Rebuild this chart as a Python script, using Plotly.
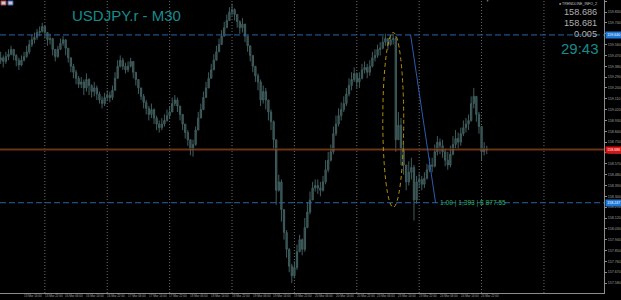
import plotly.graph_objects as go

chart_title = "USDJPY.r - M30"

# hourly-spaced candles on an M30 bar index (every 2 M30 bars)
bar_index = list(range(0, 378, 2))

open_ = [159.42, 159.43, 159.45, 159.42, 159.46, 159.48, 159.52, 159.47, 159.43, 159.39,
         159.43, 159.46, 159.50, 159.56, 159.60, 159.62, 159.66, 159.67, 159.71, 159.66,
         159.60, 159.61, 159.52, 159.46, 159.52, 159.57, 159.60, 159.53, 159.45, 159.38,
         159.33, 159.28, 159.23, 159.25, 159.20, 159.27, 159.22, 159.17, 159.20, 159.15,
         159.10, 159.07, 159.12, 159.14, 159.12, 159.18, 159.28, 159.38, 159.43, 159.38,
         159.35, 159.38, 159.42, 159.33, 159.27, 159.20, 159.13, 159.08, 159.03, 158.98,
         159.02, 158.95, 158.90, 158.87, 158.90, 158.93, 158.97, 159.00, 159.07, 159.10,
         159.05, 158.98, 158.90, 158.83, 158.77, 158.69, 158.73, 158.85, 158.95, 159.02,
         159.12, 159.20, 159.28, 159.35, 159.43, 159.50, 159.56, 159.63, 159.70, 159.76,
         159.83, 159.85, 159.81, 159.75, 159.70, 159.73, 159.63, 159.55, 159.47, 159.38,
         159.30, 159.25, 159.10, 159.17, 159.10, 159.00, 158.92, 158.77, 158.35, 158.42,
         158.19, 158.00, 157.86, 157.72, 157.64, 157.71, 157.84, 157.94, 157.86, 158.04,
         158.17, 158.27, 158.37, 158.39, 158.37, 158.35, 158.42, 158.52, 158.60, 158.67,
         158.82, 158.90, 158.97, 159.02, 159.07, 159.15, 159.22, 159.27, 159.32, 159.25,
         159.28, 159.35, 159.37, 159.33, 159.38, 159.45, 159.47, 159.52, 159.53, 159.58,
         159.61, 159.56, 159.60, 159.61, 158.77, 158.89, 158.69, 158.56, 158.42, 158.50,
         158.54, 158.27, 158.42, 158.44, 158.40, 158.45, 158.52, 158.56, 158.55, 158.67,
         158.75, 158.72, 158.67, 158.60, 158.56, 158.65, 158.73, 158.78, 158.75, 158.82,
         158.87, 158.90, 158.93, 159.07, 159.13, 158.98, 158.88, 158.67, 158.70]

high = [159.47, 159.50, 159.47, 159.50, 159.52, 159.55, 159.52, 159.48, 159.45, 159.47,
        159.50, 159.55, 159.60, 159.64, 159.66, 159.69, 159.71, 159.74, 159.72, 159.66,
        159.65, 159.61, 159.52, 159.55, 159.61, 159.63, 159.60, 159.53, 159.45, 159.40,
        159.35, 159.30, 159.29, 159.27, 159.32, 159.28, 159.23, 159.25, 159.22, 159.17,
        159.13, 159.16, 159.18, 159.17, 159.22, 159.33, 159.43, 159.47, 159.45, 159.41,
        159.42, 159.45, 159.42, 159.33, 159.27, 159.20, 159.15, 159.10, 159.05, 159.07,
        159.03, 158.97, 158.93, 158.95, 158.98, 159.02, 159.05, 159.12, 159.14, 159.12,
        159.05, 158.98, 158.90, 158.85, 158.77, 158.77, 158.88, 159.00, 159.07, 159.17,
        159.25, 159.33, 159.40, 159.48, 159.55, 159.61, 159.68, 159.75, 159.81, 159.87,
        159.90, 159.86, 159.81, 159.76, 159.78, 159.73, 159.63, 159.55, 159.47, 159.38,
        159.32, 159.27, 159.22, 159.20, 159.10, 159.02, 158.93, 158.77, 158.48, 158.44,
        158.19, 158.02, 157.87, 157.74, 157.76, 157.90, 157.98, 157.95, 158.12, 158.25,
        158.34, 158.42, 158.44, 158.44, 158.42, 158.47, 158.60, 158.67, 158.73, 158.88,
        158.97, 159.03, 159.08, 159.13, 159.20, 159.28, 159.33, 159.37, 159.33, 159.33,
        159.40, 159.42, 159.40, 159.43, 159.50, 159.52, 159.56, 159.58, 159.63, 159.65,
        159.61, 159.64, 159.65, 159.63, 159.00, 158.95, 158.73, 158.56, 158.59, 158.62,
        158.56, 158.47, 158.49, 158.47, 158.50, 158.57, 158.62, 158.62, 158.73, 158.80,
        158.78, 158.77, 158.70, 158.67, 158.72, 158.80, 158.85, 158.83, 158.87, 158.93,
        158.95, 158.98, 159.13, 159.20, 159.13, 159.00, 158.88, 158.75, 158.72]

low = [159.39, 159.40, 159.37, 159.40, 159.43, 159.47, 159.43, 159.38, 159.35, 159.38,
       159.42, 159.45, 159.48, 159.54, 159.57, 159.60, 159.63, 159.66, 159.61, 159.55,
       159.56, 159.47, 159.42, 159.45, 159.52, 159.55, 159.47, 159.41, 159.33, 159.28,
       159.23, 159.20, 159.20, 159.14, 159.17, 159.14, 159.12, 159.13, 159.10, 159.07,
       159.03, 159.05, 159.09, 159.08, 159.10, 159.18, 159.28, 159.37, 159.35, 159.32,
       159.33, 159.37, 159.28, 159.22, 159.15, 159.10, 159.03, 158.98, 158.93, 158.95,
       158.90, 158.85, 158.83, 158.85, 158.88, 158.92, 158.95, 159.00, 159.05, 159.00,
       158.93, 158.85, 158.78, 158.72, 158.64, 158.63, 158.72, 158.85, 158.95, 159.02,
       159.12, 159.20, 159.28, 159.35, 159.43, 159.50, 159.56, 159.63, 159.70, 159.76,
       159.80, 159.76, 159.70, 159.65, 159.66, 159.58, 159.50, 159.42, 159.33, 159.25,
       159.18, 159.05, 159.07, 159.02, 158.93, 158.85, 158.69, 158.23, 158.34, 158.09,
       157.94, 157.79, 157.67, 157.58, 157.62, 157.69, 157.84, 157.81, 157.84, 158.04,
       158.15, 158.27, 158.34, 158.32, 158.30, 158.34, 158.40, 158.50, 158.59, 158.65,
       158.80, 158.88, 158.93, 159.00, 159.05, 159.13, 159.18, 159.25, 159.20, 159.20,
       159.27, 159.32, 159.28, 159.30, 159.37, 159.42, 159.45, 159.47, 159.52, 159.55,
       159.52, 159.55, 159.56, 158.67, 158.77, 158.56, 158.48, 158.35, 158.39, 158.44,
       158.10, 158.24, 158.37, 158.35, 158.37, 158.44, 158.50, 158.50, 158.54, 158.64,
       158.65, 158.62, 158.55, 158.52, 158.54, 158.64, 158.70, 158.69, 158.72, 158.80,
       158.83, 158.85, 158.92, 159.03, 158.92, 158.82, 158.60, 158.64, 158.65]

close = [159.43, 159.45, 159.42, 159.46, 159.48, 159.52, 159.47, 159.43, 159.39, 159.43,
         159.46, 159.50, 159.56, 159.60, 159.62, 159.66, 159.67, 159.71, 159.66, 159.60,
         159.61, 159.52, 159.46, 159.52, 159.57, 159.60, 159.53, 159.45, 159.38, 159.33,
         159.28, 159.23, 159.25, 159.20, 159.27, 159.22, 159.17, 159.20, 159.15, 159.10,
         159.07, 159.12, 159.14, 159.12, 159.18, 159.28, 159.38, 159.43, 159.38, 159.35,
         159.38, 159.42, 159.33, 159.27, 159.20, 159.13, 159.08, 159.03, 158.98, 159.02,
         158.95, 158.90, 158.87, 158.90, 158.93, 158.97, 159.00, 159.07, 159.10, 159.05,
         158.98, 158.90, 158.83, 158.77, 158.69, 158.73, 158.85, 158.95, 159.02, 159.12,
         159.20, 159.28, 159.35, 159.43, 159.50, 159.56, 159.63, 159.70, 159.76, 159.83,
         159.85, 159.81, 159.75, 159.70, 159.73, 159.63, 159.55, 159.47, 159.38, 159.30,
         159.25, 159.10, 159.17, 159.10, 159.00, 158.92, 158.77, 158.35, 158.42, 158.19,
         158.00, 157.86, 157.72, 157.64, 157.71, 157.84, 157.94, 157.86, 158.04, 158.17,
         158.27, 158.37, 158.39, 158.37, 158.35, 158.42, 158.52, 158.60, 158.67, 158.82,
         158.90, 158.97, 159.02, 159.07, 159.15, 159.22, 159.27, 159.32, 159.25, 159.28,
         159.35, 159.37, 159.33, 159.38, 159.45, 159.47, 159.52, 159.53, 159.58, 159.61,
         159.56, 159.60, 159.61, 158.77, 158.89, 158.69, 158.56, 158.42, 158.50, 158.54,
         158.27, 158.42, 158.44, 158.40, 158.45, 158.52, 158.56, 158.55, 158.67, 158.75,
         158.72, 158.67, 158.60, 158.56, 158.65, 158.73, 158.78, 158.75, 158.82, 158.87,
         158.90, 158.93, 159.07, 159.13, 158.98, 158.88, 158.67, 158.70, 158.686]

time_label_bars = [0, 16, 32, 48, 64, 80, 96, 112, 128, 144, 160, 176,
                   192, 208, 224, 240, 256, 272, 288, 304, 320, 336, 352, 368]
time_labels = ["13 Mar 2026", "13 Mar 14:00", "13 Mar 22:00", "16 Mar 06:00",
               "16 Mar 14:00", "16 Mar 22:00", "17 Mar 06:00", "17 Mar 14:00",
               "17 Mar 22:00", "18 Mar 06:00", "18 Mar 14:00", "18 Mar 22:00",
               "19 Mar 06:00", "19 Mar 14:00", "19 Mar 22:00", "20 Mar 06:00",
               "20 Mar 14:00", "20 Mar 22:00", "23 Mar 06:00", "23 Mar 14:00",
               "23 Mar 22:00", "24 Mar 06:00", "24 Mar 14:00", "24 Mar 22:00"]
day_start_bars = [36, 84, 132, 180, 228, 276, 324, 372, 420]

price_ticks = [157.58, 157.67, 157.76, 157.85, 157.94, 158.03, 158.12, 158.21, 158.30,
               158.39, 158.48, 158.57, 158.66, 158.75, 158.84, 158.93, 159.02, 159.11,
               159.20, 159.29, 159.38, 159.47, 159.56, 159.65, 159.74, 159.83, 159.92]
price_tick_text = ["157.580", "157.670", "157.760", "157.850", "157.940", "158.030",
                   "158.120", "158.210", "158.300", "158.390", "158.480", "158.570",
                   "158.660", "158.750", "158.840", "158.930", "159.020", "159.110",
                   "159.200", "159.290", "159.380", "159.470", "159.560", "159.650",
                   "159.740", "159.830", "159.920"]

upper_level = 159.640
lower_level = 158.247
bid_price = 158.686
ask_price = 158.695
info_values = ["158.686", "158.681", "0.005"]
timer_text = "29:43"
trend_text = "1.00 | 1,393 | $ 877.55"

# ---------------- figure ----------------
W, H = 621, 300
ML, MR, MT, MB = 0, 15, 0, 7
PW, PH = W - ML - MR, H - MT - MB
Y_MIN, Y_MAX = 157.4975, 159.93
X_MIN, X_MAX = 1.49, 466.2

fig = go.Figure()
fig.add_trace(go.Candlestick(
    x=bar_index, open=open_, high=high, low=low, close=close,
    increasing=dict(line=dict(color="#405e5e", width=1), fillcolor="#2c4646"),
    decreasing=dict(line=dict(color="#405e5e", width=1), fillcolor="#2c4646"),
    whiskerwidth=0, hoverinfo="skip", showlegend=False,
))

shapes = []
for b in day_start_bars:
    shapes.append(dict(type="line", xref="x", yref="paper", x0=b, x1=b, y0=0, y1=1,
                       line=dict(color="#6a6a6a", width=1, dash="1px,2px"), layer="below"))
for lvl in (upper_level, lower_level):
    shapes.append(dict(type="line", xref="paper", yref="y", x0=0, x1=1, y0=lvl, y1=lvl,
                       line=dict(color="#2a64a8", width=1, dash="6px,3px")))
shapes.append(dict(type="line", xref="paper", yref="y", x0=0, x1=1, y0=ask_price, y1=ask_price,
                   line=dict(color="#183818", width=1)))
shapes.append(dict(type="line", xref="paper", yref="y", x0=0, x1=1, y0=bid_price, y1=bid_price,
                   line=dict(color="#c8361c", width=1)))
# trend line
shapes.append(dict(type="line", xref="x", yref="y", x0=317.4, x1=336.6,
                   y0=upper_level, y1=lower_level, line=dict(color="#2a5cb0", width=1)))
# dashed ellipse
shapes.append(dict(type="circle", xref="x", yref="y", x0=296.0, x1=312.1, y0=158.21, y1=159.66,
                   line=dict(color="#b8900b", width=1, dash="4px,3px")))
# top-left icons
shapes.append(dict(type="rect", xref="paper", yref="paper", x0=1/PW, x1=6/PW,
                   y0=1-5/PH, y1=1-1/PH, fillcolor="#c8c8d8", line=dict(color="#b04040", width=1)))
shapes.append(dict(type="rect", xref="paper", yref="paper", x0=8/PW, x1=13/PW,
                   y0=1-5/PH, y1=1-1/PH, fillcolor="#c8c8d8", line=dict(color="#4060b0", width=1)))

ann = []
def px_ann(x, y, text, size, color, xanchor="left", family="Liberation Sans, Arial", **kw):
    ann.append(dict(xref="paper", yref="paper", x=x / PW, y=1 - y / PH, text=text,
                    showarrow=False, xanchor=xanchor, yanchor="middle",
                    font=dict(size=size, color=color, family=family), **kw))

px_ann(70, 15.5, chart_title, 15, "#168c8c")
px_ann(601, 4, "● TRENDLINE_INFO_2", 3.6, "#c8c8c8", xanchor="right")
px_ann(601, 12, info_values[0], 9.2, "#b0b0b0", xanchor="right")
px_ann(601, 23, info_values[1], 9.2, "#b0b0b0", xanchor="right")
px_ann(601, 34, info_values[2], 9.2, "#b0b0b0", xanchor="right")
px_ann(603, 48.5, timer_text, 15, "#168c8c", xanchor="right")
px_ann(489, 1.5, "▼", 3, "#9a9a9a", xanchor="center")

# trend info text
ann.append(dict(xref="x", yref="y", x=336.6, y=lower_level, text=trend_text, showarrow=False,
                xanchor="left", yanchor="middle", xshift=2,
                font=dict(size=6.6, color="#2eaa5e", family="Liberation Sans, Arial")))

# price tags on right axis
for lvl, txt, bg in ((upper_level, "159.640", "#1e78d8"), (lower_level, "158.247", "#1e78d8"),
                     (bid_price, "158.686", "#e01010")):
    ann.append(dict(xref="paper", yref="y", x=607 / PW, y=lvl, text=txt, showarrow=False,
                    xanchor="left", yanchor="middle", bgcolor=bg, borderpad=1.2,
                    font=dict(size=3.6, color="#ffffff", family="Liberation Sans, Arial")))

# time labels
for b, t in zip(time_label_bars, time_labels):
    ann.append(dict(xref="x", yref="paper", x=b, y=0, text=t, showarrow=False,
                    xanchor="left", yanchor="middle", xshift=3, yshift=-3,
                    font=dict(size=3, color="#a0a0a0", family="Liberation Sans, Arial")))

fig.update_layout(
    width=W, height=H, margin=dict(l=ML, r=MR, t=MT, b=MB),
    paper_bgcolor="#000000", plot_bgcolor="#000000",
    shapes=shapes, annotations=ann, showlegend=False,
    xaxis=dict(range=[X_MIN, X_MAX], showgrid=False, zeroline=False, showticklabels=False,
               showline=True, linecolor="#8c8c8c", linewidth=1, ticks="",
               rangeslider=dict(visible=False), fixedrange=True),
    yaxis=dict(range=[Y_MIN, Y_MAX], side="right", showgrid=False, zeroline=False,
               showline=True, linecolor="#8c8c8c", linewidth=1,
               tickvals=price_ticks, ticktext=price_tick_text, ticks="outside",
               ticklen=2, tickcolor="#8c8c8c",
               tickfont=dict(size=3.6, color="#a0a0a0", family="Liberation Sans, Arial"),
               fixedrange=True),
)

fig.write_html("out.html", config={"displayModeBar": False})
